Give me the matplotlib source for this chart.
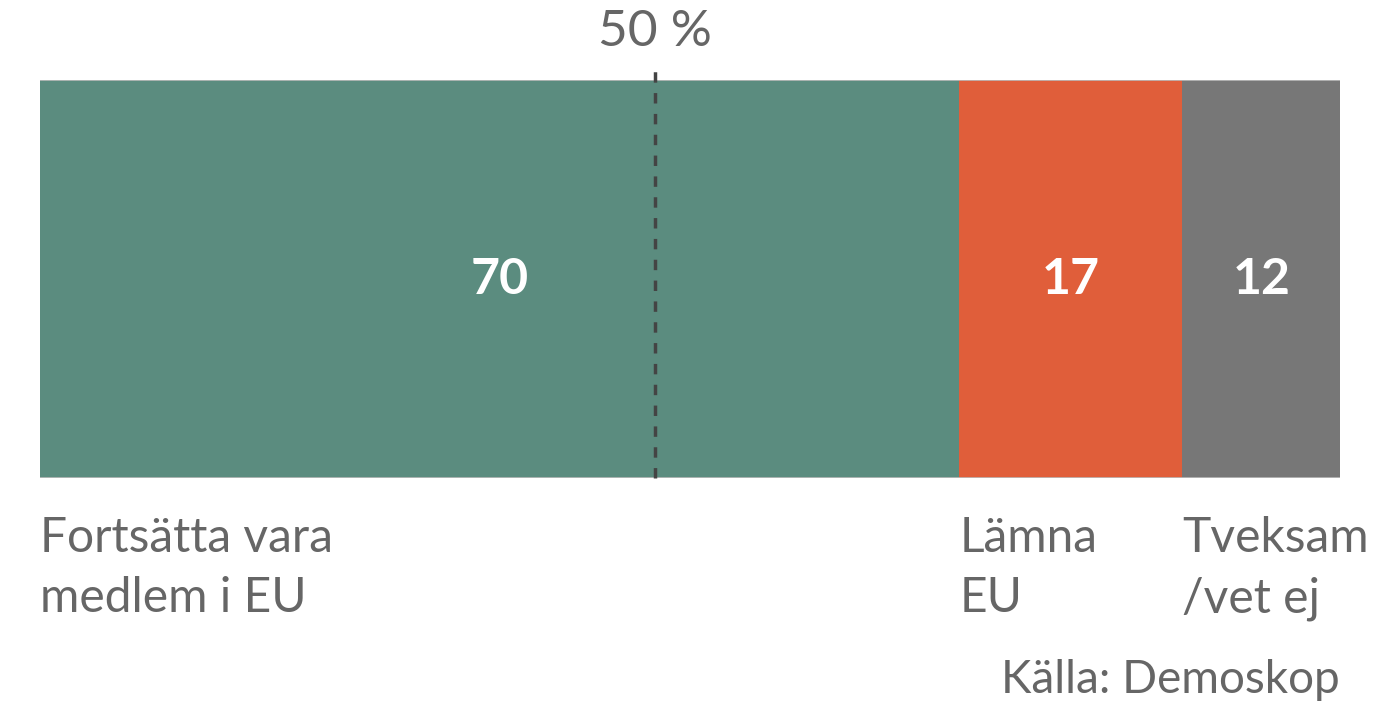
import matplotlib.pyplot as plt
import matplotlib.transforms as mtransforms

# data
categories = ['Fortsätta vara\nmedlem i EU', 'Lämna\nEU', 'Tveksam\n/vet ej']
values = [70, 17, 12]
colors = ['#5b8c7f', '#e05e3a', '#777777']
marker_pos = 46.8   # where the "50 %" marker sits in the picture
marker_label = '50 %'
source = 'Källa: Demoskop'

plt.rcParams['font.family'] = ['Lato', 'DejaVu Sans']
txt_col = '#666666'

fig = plt.figure(figsize=(13.8, 7.1), dpi=100)
ax = fig.add_axes([40/1380, 1 - 478/710, 1300/1380, 398/710])
trans = mtransforms.blended_transform_factory(ax.transData, ax.transAxes)

left = 0
for cat, v, c in zip(categories, values, colors):
    ax.barh(0, v, left=left, height=1, color=c, edgecolor='none')
    ax.text(left + v/2, 0, str(v), ha='center', va='center',
            color='white', fontsize=36, fontweight='bold')
    ax.text(left, -0.095, cat, transform=trans, ha='left', va='top',
            color=txt_col, fontsize=34.5, linespacing=1.45)
    left += v

ax.set_xlim(0, sum(values))
ax.set_ylim(-0.5, 0.5)
ax.axis('off')

# thin light edges on bar
ax.axhline(0.5, color='#bbbbbb', lw=1.2)
ax.axhline(-0.5, color='#bbbbbb', lw=1.2)

# dashed reference line
ax.plot([marker_pos, marker_pos], [-0.5, 0.543], color='#444444', lw=2.5,
        linestyle=(0, (3, 3)), clip_on=False)
ax.text(marker_pos, 1.085, marker_label, transform=trans,
        ha='center', va='baseline', color=txt_col, fontsize=37)

fig.text(1340/1380, 1 - 680/710, source, ha='right', va='center',
         color=txt_col, fontsize=33)

fig.savefig('out.png', dpi=100, facecolor='white')
